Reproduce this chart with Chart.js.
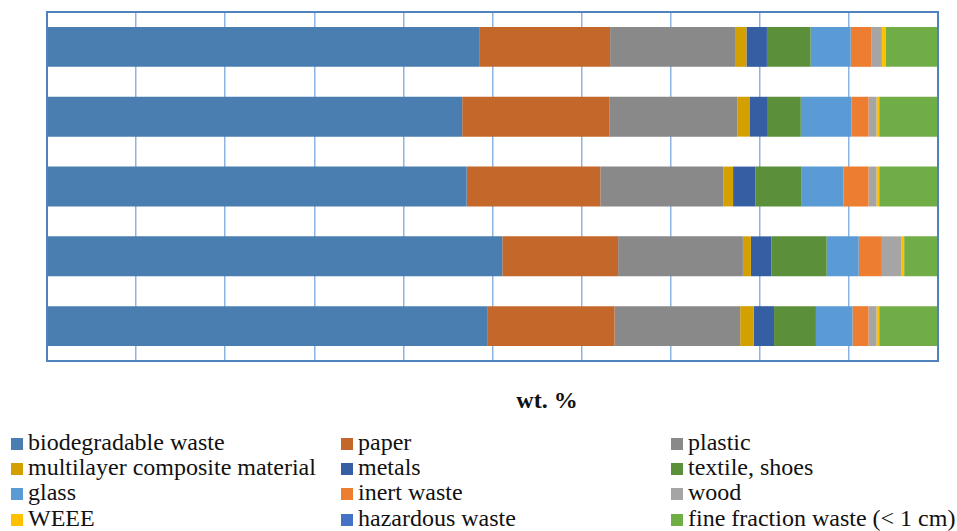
<!DOCTYPE html>
<html>
<head>
<meta charset="utf-8">
<script src="https://cdn.jsdelivr.net/npm/chart.js@4"></script>
<style>
  html, body { margin: 0; padding: 0; background: #fff; }
  body { width: 957px; height: 531px; position: relative; overflow: hidden; font-family: 'Liberation Serif', 'DejaVu Serif', serif; }
  #wrap { position: absolute; left: 0; top: 0; width: 957px; height: 380px; }
  #title { position: absolute; top: 388px; left: 497px; width: 100px; text-align: center; font-weight: bold; font-size: 24px; line-height: 24px; color: #111; }
  #legend { position: absolute; left: 0; top: 430px; width: 957px; }
  .item { position: absolute; font-size: 24px; line-height: 25.2px; white-space: nowrap; color: #111; }
  .sw { display: inline-block; width: 12px; height: 12px; margin-right: 5px; vertical-align: baseline; }
</style>
</head>
<body>
<div id="wrap"><canvas id="chart"></canvas></div>
<div id="title">wt. %</div>
<div id="legend"></div>
<script>
const categories = ['1', '2', '3', '4', '5'];

const biodegradable = [48.5, 46.6, 47.1, 51.1, 49.4];
const paper = [14.7, 16.5, 15.0, 13.0, 14.3];
const plastic = [14.1, 14.4, 13.8, 14.0, 14.1];
const multilayer = [1.2, 1.4, 1.1, 0.9, 1.5];
const metals = [2.3, 2.0, 2.5, 2.3, 2.3];
const textile = [4.9, 3.7, 5.2, 6.2, 4.7];
const glass = [4.5, 5.7, 4.7, 3.6, 4.1];
const inert = [2.3, 1.9, 2.8, 2.6, 1.8];
const wood = [1.2, 0.9, 0.9, 2.2, 0.9];
const weee = [0.4, 0.3, 0.3, 0.3, 0.3];
const hazardous = [0, 0, 0, 0, 0];
const fine = [5.9, 6.5, 6.6, 4.0, 6.6];

const seriesLabels = ['biodegradable waste', 'paper', 'plastic', 'multilayer composite material', 'metals',
    'textile, shoes', 'glass', 'inert waste', 'wood', 'WEEE', 'hazardous waste', 'fine fraction waste (< 1 cm)'];
const seriesData = [biodegradable, paper, plastic, multilayer, metals, textile, glass, inert, wood, weee, hazardous, fine];
const colors = ['#4a7eb0', '#c4672a', '#898989', '#d4a000', '#365fa3', '#5b8f3a',
    '#5b9bd5', '#ed7d31', '#a5a5a5', '#ffc000', '#4472c4', '#70ad47'];

const frame = {
    id: 'frame',
    afterDatasetsDraw(chart) {
        const a = chart.chartArea;
        const ctx = chart.ctx;
        ctx.save();
        ctx.strokeStyle = '#4f81bd';
        ctx.lineWidth = 2;
        ctx.strokeRect(a.left, a.top, a.right - a.left, a.bottom - a.top);
        ctx.restore();
    }
};

const chart = new Chart(document.getElementById('chart'), {
    type: 'bar',
    data: {
        labels: categories,
        datasets: seriesLabels.map((label, i) => ({
            label: label,
            data: seriesData[i],
            backgroundColor: colors[i],
            borderWidth: 0,
            categoryPercentage: 1,
            barPercentage: 0.571,
        })),
    },
    options: {
        indexAxis: 'y',
        responsive: true,
        maintainAspectRatio: false,
        animation: false,
        layout: { padding: { left: 47, top: 12, right: 19, bottom: 19 } },
        scales: {
            x: {
                stacked: true,
                min: 0,
                max: 100,
                ticks: { display: false, stepSize: 10 },
                grid: { color: '#8db4e2', lineWidth: 1.5, drawTicks: false },
                border: { display: false },
            },
            y: {
                stacked: true,
                display: false,
            }
        },
        plugins: {
            legend: { display: false },
            tooltip: { enabled: false },
        },
    },
    plugins: [frame],
});

// legend in three columns, filled row by row
const legendBox = document.getElementById('legend');
const colX = [11, 341, 671];
chart.data.datasets.forEach((ds, i) => {
    const el = document.createElement('div');
    el.className = 'item';
    el.style.left = colX[i % 3] + 'px';
    el.style.top = (Math.floor(i / 3) * 25.2) + 'px';
    const sw = document.createElement('span');
    sw.className = 'sw';
    sw.style.background = ds.backgroundColor;
    el.appendChild(sw);
    el.appendChild(document.createTextNode(ds.label));
    legendBox.appendChild(el);
});
</script>
</body>
</html>
